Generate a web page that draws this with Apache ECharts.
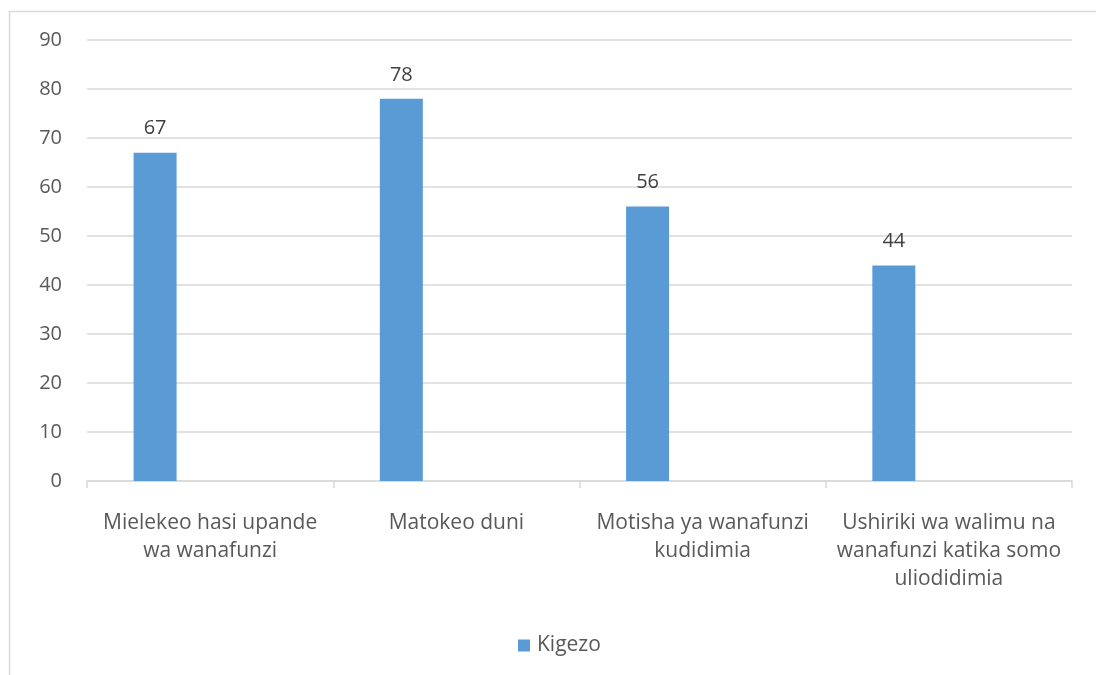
<!DOCTYPE html>
<html><head><meta charset="utf-8">
<script src="https://cdn.jsdelivr.net/npm/echarts@6/dist/echarts.min.js"></script>
<style>html,body{margin:0;padding:0;background:#fff}#c{width:1096px;height:675px}</style>
</head><body><div id="c"></div>
<script>
const categories = ['Mielekeo hasi upande\nwa wanafunzi', 'Matokeo duni', 'Motisha ya wanafunzi\nkudidimia', 'Ushiriki wa walimu na\nwanafunzi katika somo\nuliodidimia'];
const seriesName = 'Kigezo';
const values = [67, 78, 56, 44];
const emptyValues = [null, null, null, null];
const yTicks = {min: 0, max: 90, interval: 10};
const FONT = 'Open Sans';
const chart = echarts.init(document.getElementById('c'), null, {renderer: 'canvas'});
chart.setOption({
  animation: false,
  backgroundColor: '#fff',
  textStyle: {fontFamily: FONT},
  graphic: [{type: 'rect', shape: {x: 9.5, y: 11.5, width: 1200, height: 900}, style: {fill: 'none', stroke: '#d9d9d9', lineWidth: 1.5}, silent: true}],
  grid: {left: 87, right: 24, top: 40, bottom: 194, containLabel: false},
  legend: {
    top: 630, left: 513, itemWidth: 12, itemHeight: 12, icon: 'rect',
    data: [seriesName],
    textStyle: {color: '#595959', fontSize: 21, fontFamily: FONT, padding: [0, 0, 0, 2]}
  },
  xAxis: {
    type: 'category', data: categories,
    axisLine: {lineStyle: {color: '#d9d9d9', width: 1.5}},
    axisTick: {show: true, length: 7, lineStyle: {color: '#d9d9d9', width: 1.5}},
    axisLabel: {color: '#595959', fontSize: 21, fontFamily: FONT, lineHeight: 28, margin: 28, interval: 0}
  },
  yAxis: {
    type: 'value', min: yTicks.min, max: yTicks.max, interval: yTicks.interval,
    axisLine: {show: false}, axisTick: {show: false},
    splitLine: {lineStyle: {color: '#d9d9d9', width: 1.5}},
    axisLabel: {color: '#595959', fontSize: 20, fontFamily: FONT, margin: 25}
  },
  series: [
    {name: seriesName, type: 'bar', data: values, barWidth: 43, barGap: '156%',
     itemStyle: {color: '#5b9bd5'},
     label: {show: true, position: 'top', distance: 14, color: '#404040', fontSize: 20, fontFamily: FONT}},
    {name: 'empty', type: 'bar', data: emptyValues, barWidth: 43, itemStyle: {color: '#ed7d31'}}
  ]
});
</script></body></html>
